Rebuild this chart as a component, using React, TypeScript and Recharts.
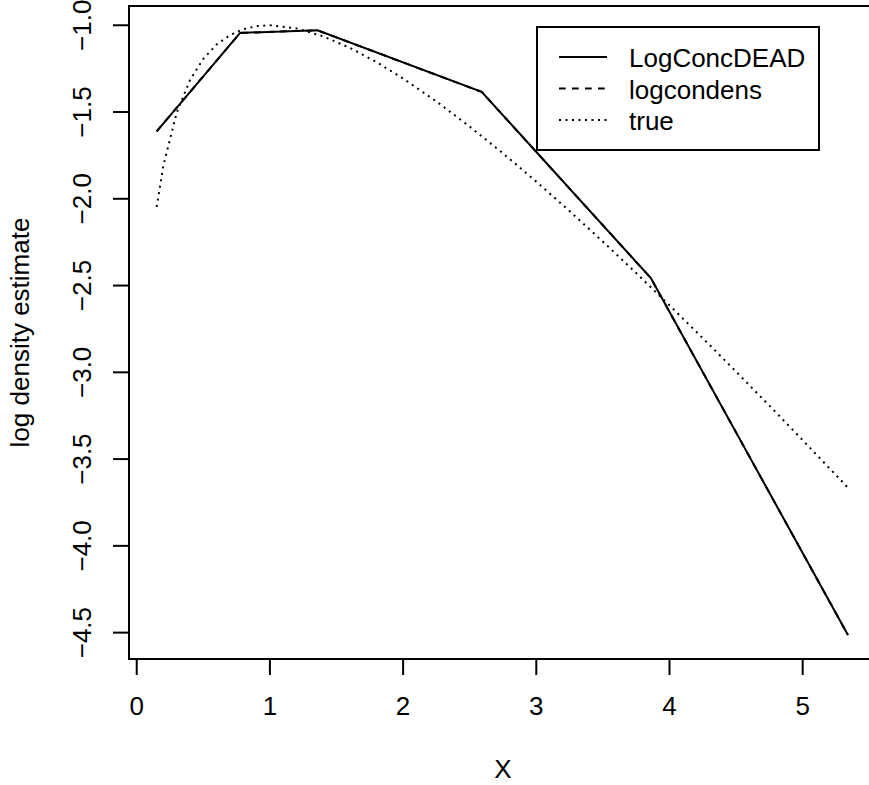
import React from 'react';
import { LineChart, Line, XAxis, YAxis, ReferenceArea, Legend, Label } from 'recharts';

const FONT = '"Liberation Sans", Arial, Helvetica, sans-serif';
const FS = 26;

// ---- data ----
const seriesNames = ['LogConcDEAD', 'logcondens', 'true'];
const xTicks = [0, 1, 2, 3, 4, 5];
const yTicks = [-4.5, -4.0, -3.5, -3.0, -2.5, -2.0, -1.5, -1.0];
const xDomain = [-0.058, 5.558];
const yDomain = [-4.652, -0.889];

const deadX = [0.15, 0.776, 1.357, 2.59, 3.86, 5.34];
const deadY = [-1.611, -1.044, -1.029, -1.384, -2.457, -4.514];

const condensX = [0.15, 0.776, 1.357, 2.59, 3.86, 5.34];
const condensY = [-1.611, -1.044, -1.029, -1.384, -2.457, -4.514];

const trueX = [0.15, 0.2, 0.3, 0.4, 0.5, 0.6, 0.7, 0.8, 0.9, 1.0, 1.2, 1.4, 1.6, 1.8, 2.0, 2.25, 2.5, 2.75, 3.0, 3.25, 3.5, 3.75, 4.0, 4.25, 4.5, 4.75, 5.0, 5.35];
const trueY = [-2.047, -1.809, -1.504, -1.316, -1.193, -1.111, -1.057, -1.023, -1.005, -1.0, -1.018, -1.064, -1.13, -1.212, -1.307, -1.439, -1.584, -1.738, -1.901, -2.071, -2.247, -2.428, -2.614, -2.803, -2.996, -3.192, -3.391, -3.673];

// ---- styles ----
const dashStyles: Record<string, string | undefined> = {
  LogConcDEAD: undefined,
  logcondens: '6.7 6.3',
  true: '2 4.5',
};

const toPts = (xs: number[], ys: number[]) => xs.map((x, i) => ({ x, y: ys[i] }));

const fmtY = (v: number) => v.toFixed(1).replace('-', '\u2212');

const YTick = (props: any) => {
  const { x, y, payload } = props;
  return (
    <text
      x={x}
      y={y}
      transform={`rotate(-90 ${x} ${y})`}
      textAnchor="middle"
      fontSize={FS}
      fontFamily={FONT}
      fill="#000"
    >
      {fmtY(payload.value)}
    </text>
  );
};

const XTick = (props: any) => {
  const { x, y, payload } = props;
  return (
    <text x={x} y={y} dy="0.71em" textAnchor="middle" fontSize={FS} fontFamily={FONT} fill="#000">
      {String(payload.value)}
    </text>
  );
};

const XLabel = (props: any) => {
  const vb = props.viewBox || {};
  return (
    <text x={vb.x + vb.width / 2} y={vb.y + 119} textAnchor="middle" fontSize={FS} fontFamily={FONT} fill="#000">
      X
    </text>
  );
};

const YLabel = (props: any) => {
  const vb = props.viewBox || {};
  const cx = vb.x - 20;
  const cy = vb.y + vb.height / 2;
  return (
    <text x={cx} y={cy} transform={`rotate(-90 ${cx} ${cy})`} textAnchor="middle" fontSize={FS} fontFamily={FONT} fill="#000">
      log density estimate
    </text>
  );
};

const LegendBox = () => {
  const W = 284;
  const H = 125;
  const rowY = [31, 62.5, 94];
  return (
    <svg width={W} height={H} style={{ display: 'block' }}>
      <rect x={1} y={1} width={W - 2} height={H - 2} fill="#fff" stroke="#000" strokeWidth={2} />
      {seriesNames.map((n, i) => (
        <g key={n}>
          <line x1={23} x2={71} y1={rowY[i]} y2={rowY[i]} stroke="#000" strokeWidth={2} strokeDasharray={dashStyles[n]} />
          <text x={93} y={rowY[i] + 10} fontSize={FS} fontFamily={FONT} fill="#000">
            {n}
          </text>
        </g>
      ))}
    </svg>
  );
};

export default function App() {
  return (
    <div style={{ position: 'absolute', left: 0, top: 0, width: 869, height: 785, overflow: 'hidden', background: '#fff' }}>
      <LineChart width={900} height={785} margin={{ top: 6, right: 23, bottom: 66, left: 49 }} style={{ fontFamily: FONT }}>
        <XAxis
          type="number"
          dataKey="x"
          domain={xDomain}
          ticks={xTicks}
          interval={0}
          allowDataOverflow
          axisLine={false}
          tickSize={16}
          tickMargin={22}
          tickLine={{ stroke: '#000', strokeWidth: 2 }}
          tick={<XTick />}
          height={60}
        >
          <Label content={<XLabel />} />
        </XAxis>
        <YAxis
          type="number"
          dataKey="y"
          domain={yDomain}
          ticks={yTicks}
          interval={0}
          allowDataOverflow
          axisLine={false}
          tickSize={16}
          tickMargin={22}
          tickLine={{ stroke: '#000', strokeWidth: 2 }}
          tick={<YTick />}
          width={80}
        >
          <Label content={<YLabel />} />
        </YAxis>
        <ReferenceArea
          x1={xDomain[0]}
          x2={xDomain[1]}
          y1={yDomain[0]}
          y2={yDomain[1]}
          fill="none"
          fillOpacity={0}
          stroke="#000"
          strokeWidth={2}
          ifOverflow="visible"
        />
        <Line
          data={toPts(condensX, condensY)}
          dataKey="y"
          name="logcondens"
          type="linear"
          stroke="#000"
          strokeWidth={2}
          strokeDasharray={dashStyles.logcondens}
          dot={false}
          activeDot={false}
          isAnimationActive={false}
        />
        <Line
          data={toPts(trueX, trueY)}
          dataKey="y"
          name="true"
          type="linear"
          stroke="#000"
          strokeWidth={2}
          strokeDasharray={dashStyles.true}
          dot={false}
          activeDot={false}
          isAnimationActive={false}
        />
        <Line
          data={toPts(deadX, deadY)}
          dataKey="y"
          name="LogConcDEAD"
          type="linear"
          stroke="#000"
          strokeWidth={2}
          dot={false}
          activeDot={false}
          isAnimationActive={false}
        />
        <Legend
          layout="horizontal"
          verticalAlign="middle"
          align="center"
          content={<LegendBox />}
          wrapperStyle={{ position: 'absolute', left: 536, top: 26, width: 284, height: 125, margin: 0, padding: 0 }}
        />
      </LineChart>
    </div>
  );
}
